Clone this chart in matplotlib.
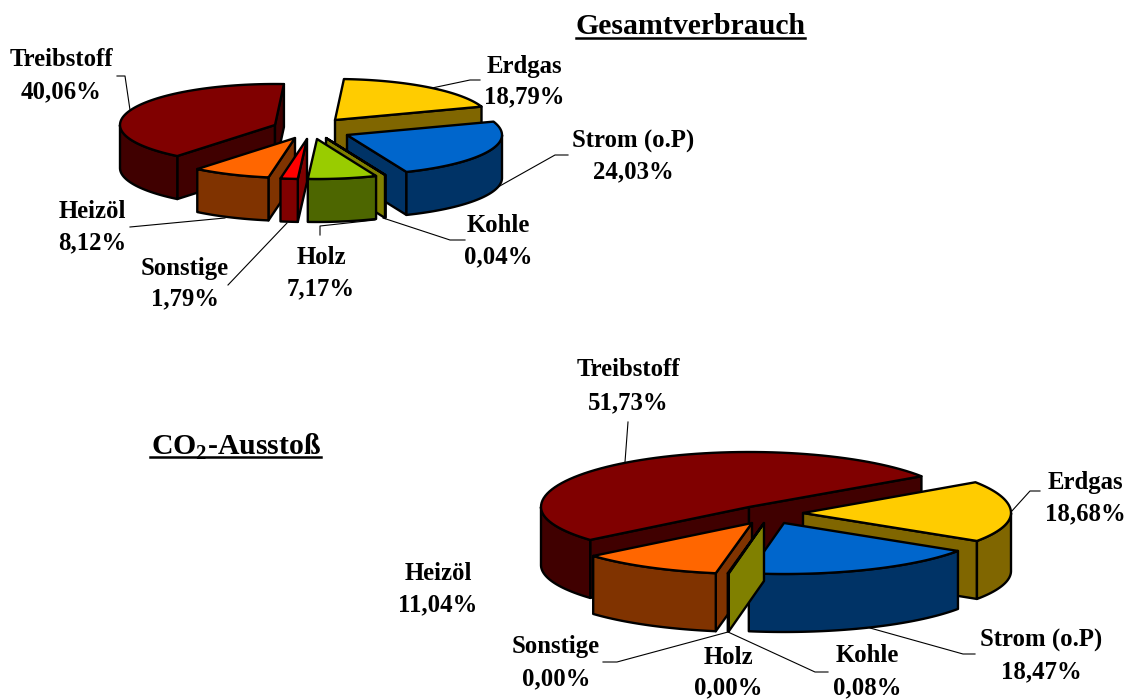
import numpy as np
import matplotlib
matplotlib.use('Agg')
from matplotlib import pyplot as plt
from matplotlib.patches import Polygon

plt.rcParams['font.family'] = ['Liberation Serif', 'DejaVu Serif']
plt.rcParams['mathtext.fontset'] = 'custom'
plt.rcParams['mathtext.bf'] = 'Liberation Serif:bold'

# data, clockwise from the first slice
cats_top = ['Erdgas', 'Strom (o.P)', 'Kohle', 'Holz', 'Sonstige', 'Heizöl', 'Treibstoff']
vals_top = [18.79, 24.03, 0.04, 7.17, 1.79, 8.12, 40.06]
cats_bot = ['Erdgas', 'Strom (o.P)', 'Kohle', 'Holz', 'Sonstige', 'Heizöl', 'Treibstoff']
vals_bot = [18.68, 18.47, 0.08, 0.00, 0.00, 11.04, 51.73]

top_col = ['#FFCC00', '#0066CC', '#808000', '#99CC00', '#FF0000', '#FF6600', '#800000']
side_col = ['#806600', '#003366', '#808000', '#4D6600', '#800000', '#803300', '#400000']

# where each exploded slice has its tip, in pixels
tips_top = [(335, 120), (347, 135), (326, 138), (317, 139), (307, 139), (295, 138), (275, 125)]
tips_bot = [(803, 513), (784, 523), (764, 523), (764, 523), (764, 523), (752, 523), (749, 507)]

# label centre x, y of first line, y of second line
lab_top = [(524, 65, 96), (633, 140, 171), (498, 225, 256), (321, 257, 288),
           (185, 267, 298), (92, 211, 242), (61, 59, 91)]
lab_bot = [(1085, 481, 513), (1041, 639, 671), (867, 655, 687), (728, 657, 687),
           (556, 646, 678), (438, 572, 604), (628, 369, 402)]

# leader lines
lead_top = [[(480, 80), (470, 80), (432, 88)],
            [(568, 155), (555, 155), (498, 187)],
            [(465, 240), (450, 240), (383, 218)],
            [(320, 235), (320, 226), (375, 220)],
            [(228, 285), (287, 223)],
            [(130, 227), (225, 218)],
            [(117, 76), (125, 76), (130, 110)]]
lead_bot = [[(1040, 491), (1030, 491), (1011, 512)],
            [(975, 654), (963, 654), (870, 628)],
            [(828, 672), (815, 672), (728, 632)],
            [(603, 662), (617, 662), (728, 632)],
            [(628, 422), (625, 462)]]

fig = plt.figure(figsize=(11.26, 6.99), dpi=100)
ax = fig.add_axes([0, 0, 1, 1])
ax.set_xlim(0, 1126)
ax.set_ylim(699, 0)
ax.axis('off')


def pt(tip, th, rx, ry, ry_front):
    t = np.radians(th)
    c = np.cos(t)
    return tip[0] + rx * np.sin(t), tip[1] - (ry if c > 0 else ry_front) * c


def poly(xy, color, z):
    ax.add_patch(Polygon(xy, closed=True, fc=color, ec='black', lw=1.7, joinstyle='round', zorder=z))


def pie3d(vals, tips, start, rx, ry, ry_front, depth):
    edges = start + np.concatenate([[0], np.cumsum(vals)]) * 3.6
    mids = (edges[:-1] + edges[1:]) / 2
    order = np.argsort(-np.cos(np.radians(mids)))
    z = 2
    for i in order:
        if vals[i] == 0:
            continue
        a, b = edges[i], edges[i + 1]
        tip = tips[i]
        # radial walls
        for th, visible in [(a, np.sin(np.radians(a)) < 0), (b, np.sin(np.radians(b)) > 0)]:
            if visible:
                x, y = pt(tip, th, rx, ry, ry_front)
                poly([tip, (x, y), (x, y + depth), (tip[0], tip[1] + depth)], side_col[i], z)
                z += 1
        # outer wall, only the front half of the rim
        lo, hi = max(a, 90), min(b, 270)
        if hi > lo:
            ths = np.linspace(lo, hi, 60)
            up = [pt(tip, th, rx, ry, ry_front) for th in ths]
            down = [(x, y + depth) for x, y in up[::-1]]
            poly(up + down, side_col[i], z)
            z += 1
        ths = np.linspace(a, b, 80)
        poly([tip] + [pt(tip, th, rx, ry, ry_front) for th in ths], top_col[i], z)
        z += 1


def labels(cats, vals, pos):
    for c, v, (x, y1, y2) in zip(cats, vals, pos):
        ax.text(x, y1 + 1, c, ha='center', va='center', fontsize=17.8, fontweight='bold')
        ax.text(x, y2 + 1, f'{v:.2f}'.replace('.', ',') + '%', ha='center', va='center',
                fontsize=17.8, fontweight='bold')


def leaders(lines):
    for line in lines:
        xs, ys = zip(*line)
        ax.plot(xs, ys, color='black', lw=0.8, zorder=1)


leaders(lead_top)
leaders(lead_bot)
pie3d(vals_top, tips_top, 3.3, 155, 41, 40, 43)
pie3d(vals_bot, tips_bot, 56, 208, 55, 51, 58)
labels(cats_top, vals_top, lab_top)
labels(cats_bot, vals_bot, lab_bot)

ax.text(690.5, 27, 'Gesamtverbrauch', ha='center', va='center', fontsize=21.4, fontweight='bold')
ax.plot([576, 805], [38, 38], color='black', lw=1.8)
ax.text(235.5, 447, r'CO$_{\mathbf{2}}$-Ausstoß', ha='center', va='center', fontsize=21.4, fontweight='bold')
ax.plot([150, 321], [457, 457], color='black', lw=1.8)

fig.savefig('out.png', dpi=100)
